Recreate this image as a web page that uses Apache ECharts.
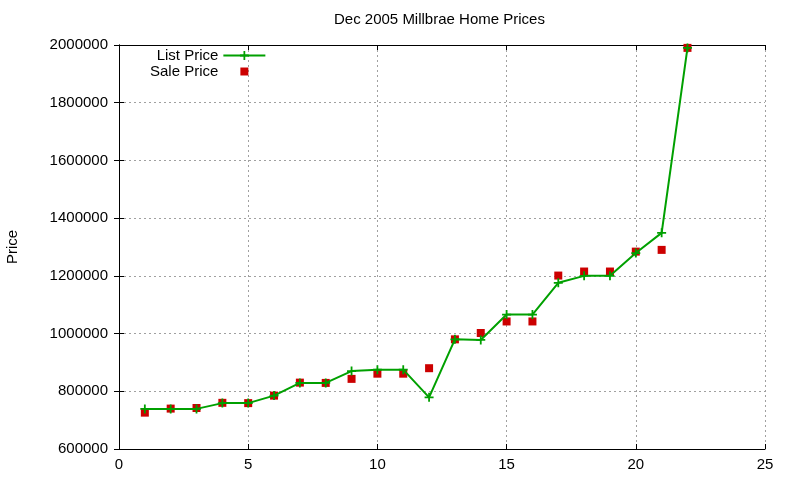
<!DOCTYPE html>
<html>
<head>
<meta charset="utf-8">
<script src="https://cdn.jsdelivr.net/npm/echarts@6/dist/echarts.min.js"></script>
<style>
  html, body { margin: 0; padding: 0; background: #fff; }
  #chart { width: 800px; height: 480px; }
</style>
</head>
<body>
<div id="chart"></div>
<script>
// house number (x) and prices
var houses = [1, 2, 3, 4, 5, 6, 7, 8, 9, 10, 11, 12, 13, 14, 15, 16, 17, 18, 19, 20, 21, 22];
var listPrice = [739000, 739000, 739000, 759000, 759000, 785000, 829000, 829000, 870000, 875000, 875000,
  779000, 980000, 978000, 1066000, 1066000, 1176000, 1200000, 1200000, 1279000, 1349000, 1990000];
var salePrice = [726000, 740000, 742000, 760000, 759000, 785000, 830000, 829000, 843000, 861000, 861000,
  880000, 980000, 1002000, 1042000, 1042000, 1201000, 1215000, 1215000, 1284000, 1290000, 1990000];

var font = "'Liberation Sans', Arial, sans-serif";
var fs = 15;
var plusPath = "path://M4,0h2v4h4v2h-4v4h-2v-4h-4v-2h4z";
var squarePath = "path://M0,0h1v1h-1z";
// same square but with empty room round it, so the legend icon stays small
var legendSquare = "path://M-0.19,-0.19M0,0h1v1h-1zM1.19,1.19";

function pairs(xs, ys) {
  return xs.map(function (x, i) { return [x, ys[i]]; });
}

var tickStyle = { show: true, inside: true, length: 5, lineStyle: { color: "#000" } };
var gridLines = { show: true, lineStyle: { color: "#a0a0a0", type: [2, 3], width: 1 } };

var chart = echarts.init(document.getElementById("chart"));
chart.setOption({
  animation: false,
  textStyle: { fontFamily: font },
  title: {
    text: "Dec 2005 Millbrae Home Prices",
    left: 334,
    top: 12,
    padding: 0,
    textStyle: { fontSize: fs, fontWeight: "normal", color: "#000", fontFamily: font }
  },
  legend: {
    orient: "vertical",
    align: "right",
    left: 150,
    top: 48,
    padding: 0,
    itemWidth: 42,
    itemHeight: 11,
    itemGap: 1,
    selectedMode: false,
    textStyle: { fontSize: fs, color: "#000", fontFamily: font },
    data: [
      { name: "List Price" },
      { name: "Sale Price", icon: legendSquare }
    ]
  },
  grid: { left: 119, right: 35, top: 45, bottom: 31, containLabel: false, outerBoundsMode: "none" },
  xAxis: [
    {
      type: "value",
      min: 0, max: 25, interval: 5,
      axisLine: { show: true, lineStyle: { color: "#000" } },
      axisTick: tickStyle,
      axisLabel: { color: "#000", fontSize: fs, margin: 8 },
      splitLine: gridLines
    },
    {
      type: "value", position: "top",
      min: 0, max: 25, interval: 5,
      axisLine: { show: true, lineStyle: { color: "#000" } },
      axisTick: tickStyle,
      axisLabel: { show: false },
      splitLine: { show: false }
    }
  ],
  yAxis: [
    {
      type: "value",
      min: 600000, max: 2000000, interval: 200000,
      name: "Price",
      nameLocation: "middle",
      nameGap: 99,
      nameTextStyle: { fontSize: fs, color: "#000" },
      axisLine: { show: true, lineStyle: { color: "#000" } },
      axisTick: tickStyle,
      axisLabel: {
        color: "#000", fontSize: fs, margin: 11,
        formatter: function (v) { return String(v); }
      },
      splitLine: gridLines
    },
    {
      type: "value", position: "right",
      min: 600000, max: 2000000, interval: 200000,
      axisLine: { show: true, lineStyle: { color: "#000" } },
      axisTick: tickStyle,
      axisLabel: { show: false },
      splitLine: { show: false }
    }
  ],
  series: [
    {
      name: "List Price",
      type: "line",
      data: pairs(houses, listPrice),
      symbol: plusPath,
      symbolSize: 9,
      showAllSymbol: true,
      color: "#00a000",
      itemStyle: { color: "#00a000" },
      lineStyle: { color: "#00a000", width: 2 }
    },
    {
      name: "Sale Price",
      type: "scatter",
      data: pairs(houses, salePrice),
      symbol: squarePath,
      symbolSize: 8,
      color: "#cc0000",
      itemStyle: { color: "#cc0000", opacity: 1 }
    }
  ]
});
</script>
</body>
</html>
